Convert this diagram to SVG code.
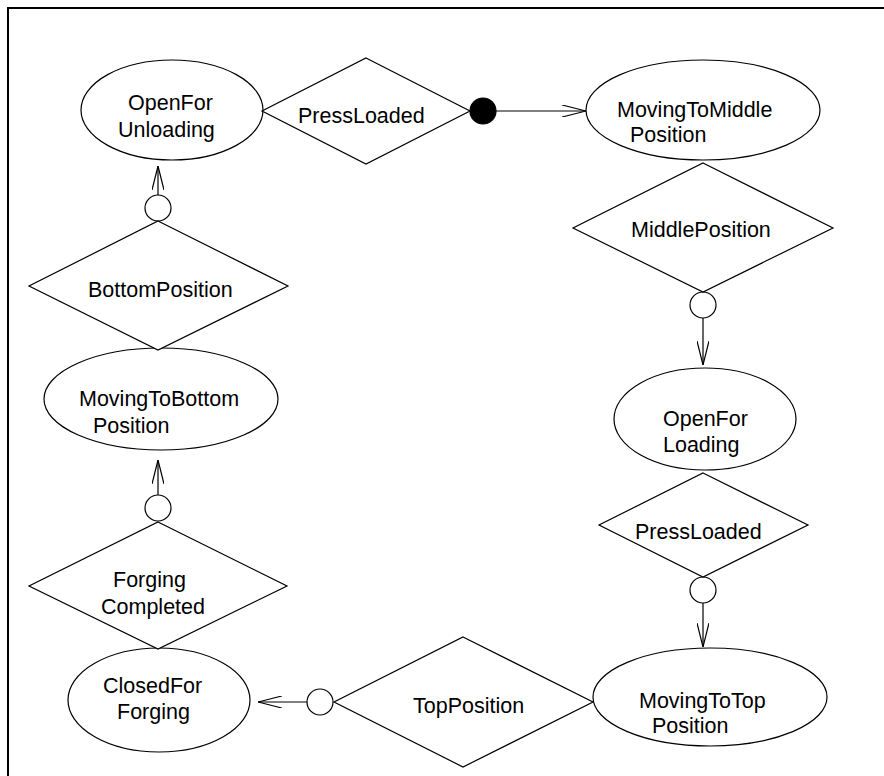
<svg xmlns="http://www.w3.org/2000/svg" width="884" height="776" viewBox="0 0 884 776">
<defs>
<style>
.shape{fill:#fff;stroke:#000;stroke-width:1.2}
.line{fill:none;stroke:#000;stroke-width:1.2}
.knob{fill:#fff;stroke:#000;stroke-width:1.2}
.dot{fill:#000;stroke:#000;stroke-width:1.2}
text{font-family:"Liberation Sans",Arial,sans-serif;font-size:21.5px;fill:#000}
</style>
<marker id="arr" viewBox="0 0 24 12" refX="24" refY="6" markerWidth="24" markerHeight="12" markerUnits="userSpaceOnUse" orient="auto">
<path d="M0,0 L24,6 L0,12" fill="none" stroke="#000" stroke-width="1.2"/>
</marker>
</defs>
<rect x="0" y="0" width="884" height="776" fill="#fff"/>
<path d="M8,776 L8,8 L884,8" fill="none" stroke="#000" stroke-width="2"/>

<g id="connectors">
<circle class="dot" cx="483" cy="111" r="13"/>
<line class="line" x1="496" y1="111" x2="586" y2="111" marker-end="url(#arr)"/>
<circle class="knob" cx="703" cy="305" r="13"/>
<line class="line" x1="703" y1="318" x2="703" y2="365" marker-end="url(#arr)"/>
<circle class="knob" cx="703" cy="590" r="13"/>
<line class="line" x1="703" y1="603" x2="703" y2="647" marker-end="url(#arr)"/>
<circle class="knob" cx="320" cy="702" r="13"/>
<line class="line" x1="307" y1="702" x2="258" y2="702" marker-end="url(#arr)"/>
<circle class="knob" cx="158" cy="508" r="13"/>
<line class="line" x1="158" y1="495" x2="158" y2="460" marker-end="url(#arr)"/>
<circle class="knob" cx="158" cy="208" r="13"/>
<line class="line" x1="158" y1="195" x2="158" y2="166" marker-end="url(#arr)"/>
</g>

<g id="OpenForUnloading">
<ellipse class="shape" cx="172" cy="110" rx="91" ry="50"/>
<text x="128" y="110">OpenFor</text>
<text x="118" y="137">Unloading</text>
</g>
<g id="PressLoaded1">
<polygon class="shape" points="366,58 470,111 366,164 262,111"/>
<text x="298" y="123">PressLoaded</text>
</g>
<g id="MovingToMiddlePosition">
<ellipse class="shape" cx="703" cy="110" rx="117" ry="50"/>
<text x="617" y="117">MovingToMiddle</text>
<text x="630" y="142">Position</text>
</g>
<g id="MiddlePosition">
<polygon class="shape" points="703,163 833,228 703,292 573,228"/>
<text x="631" y="237">MiddlePosition</text>
</g>
<g id="OpenForLoading">
<ellipse class="shape" cx="705" cy="419" rx="91" ry="51"/>
<text x="663" y="426">OpenFor</text>
<text x="663" y="452">Loading</text>
</g>
<g id="PressLoaded2">
<polygon class="shape" points="703,473 808,525 703,577 599,525"/>
<text x="635" y="539">PressLoaded</text>
</g>
<g id="MovingToTopPosition">
<ellipse class="shape" cx="710" cy="697" rx="117" ry="49"/>
<text x="639" y="708">MovingToTop</text>
<text x="652" y="733">Position</text>
</g>
<g id="TopPosition">
<polygon class="shape" points="463,637 593,702 463,767 334,702"/>
<text x="413" y="713">TopPosition</text>
</g>
<g id="ClosedForForging">
<ellipse class="shape" cx="159" cy="700" rx="91" ry="52"/>
<text x="103" y="693">ClosedFor</text>
<text x="117" y="719">Forging</text>
</g>
<g id="ForgingCompleted">
<polygon class="shape" points="158,522 287,586 158,649 29,586"/>
<text x="113" y="587">Forging</text>
<text x="101" y="614">Completed</text>
</g>
<g id="MovingToBottomPosition">
<ellipse class="shape" cx="161" cy="399" rx="117" ry="51"/>
<text x="79" y="406">MovingToBottom</text>
<text x="93" y="433">Position</text>
</g>
<g id="BottomPosition">
<polygon class="shape" points="158,221 288,286 158,350 29,286"/>
<text x="88" y="297">BottomPosition</text>
</g>
</svg>
